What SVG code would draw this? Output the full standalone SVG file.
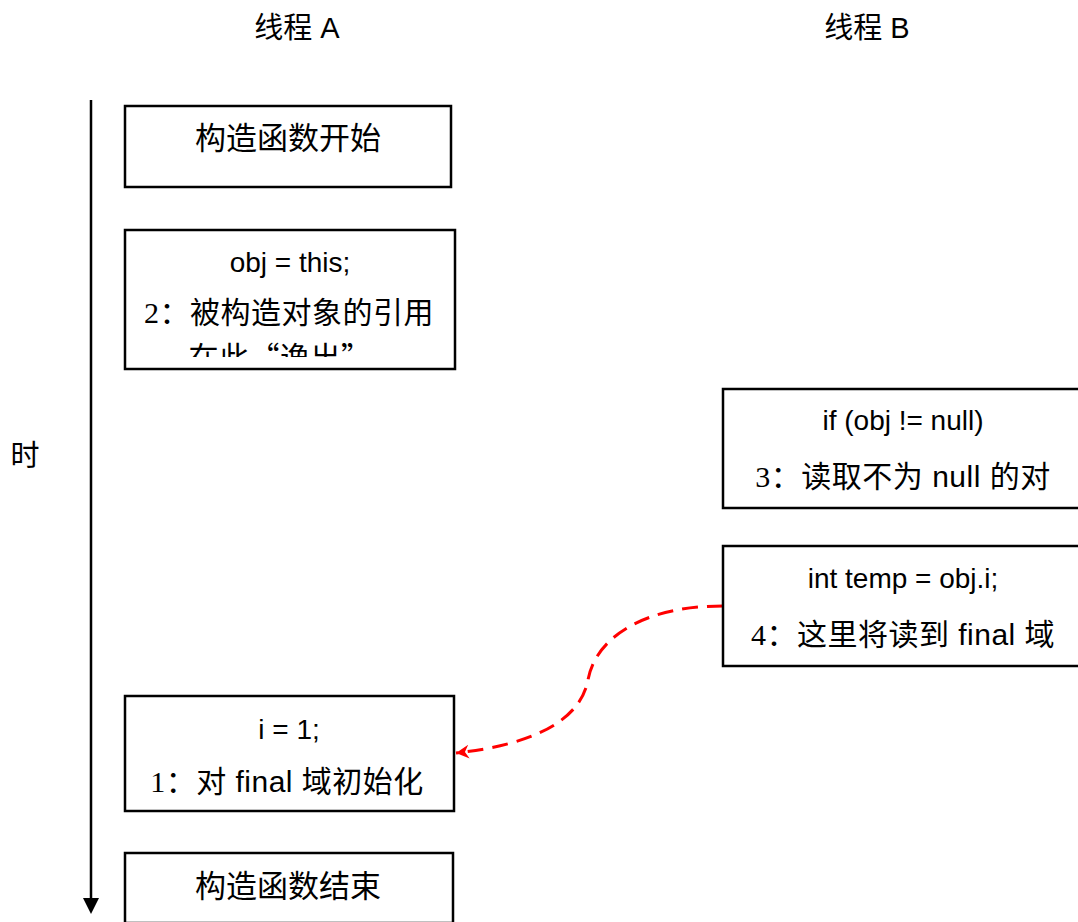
<svg xmlns="http://www.w3.org/2000/svg" width="1078" height="922" viewBox="0 0 1078 922">
<style>
.box{fill:#fff;stroke:#000;stroke-width:2.5}
.t{font-family:"Liberation Sans","Noto Sans CJK SC",sans-serif;fill:#000;text-anchor:middle}
.code{font-size:28px}
.cn{font-size:30px;letter-spacing:0.5px}
.hd{font-size:29px}
.num{font-family:"Liberation Serif","Noto Sans CJK SC",serif}
.q{font-family:"Noto Sans CJK SC",sans-serif}
</style>
<defs>
<marker id="ah" markerWidth="16" markerHeight="16" refX="13" refY="8" orient="auto" markerUnits="userSpaceOnUse">
<path d="M0,1 L13,8 L0,15 L4,8 Z" fill="#f00"/>
</marker>
<clipPath id="c2"><rect x="125" y="230" width="330" height="127"/></clipPath>
</defs>
<g id="headers">
<text class="t hd" x="297" y="38">线程 A</text>
<text class="t hd" x="867" y="38">线程 B</text>
<text class="t hd" x="25" y="466">时</text>
</g>
<g id="connectors">
<line x1="91" y1="100" x2="91" y2="898" stroke="#000" stroke-width="2.5"/>
<path d="M83,898 L99,898 L91,914 Z" fill="#000"/>
<path d="M723,606 C640,606 595,640 588,680 C580,722 530,745 456,753" fill="none" stroke="#f00" stroke-width="3" stroke-dasharray="16,9" marker-end="url(#ah)"/>
</g>
<g id="n1">
<rect class="box" x="125" y="106" width="326" height="81"/>
<text class="t" x="288" y="149" font-size="31">构造函数开始</text>
</g>
<g id="n2">
<rect class="box" x="125" y="230" width="330" height="139"/>
<text class="t code" x="290" y="272">obj = this;</text>
<g clip-path="url(#c2)">
<text class="t cn" x="289" y="323"><tspan class="num">2</tspan>：被构造对象的引用</text>
<text class="t cn" x="280" y="368">在此<tspan class="q">“</tspan>逸出<tspan class="q">”</tspan></text>
</g>
</g>
<g id="n3">
<rect class="box" x="723" y="389" width="360" height="119"/>
<text class="t code" x="903" y="430">if (obj != null)</text>
<text class="t cn" x="903" y="487"><tspan class="num">3</tspan>：读取不为 null 的对</text>
</g>
<g id="n4">
<rect class="box" x="723" y="546" width="360" height="120"/>
<text class="t code" x="903" y="588">int temp = obj.i;</text>
<text class="t cn" x="903" y="645"><tspan class="num">4</tspan>：这里将读到 final 域</text>
</g>
<g id="n5">
<rect class="box" x="125" y="696" width="329" height="115"/>
<text class="t code" x="289" y="739">i = 1;</text>
<text class="t cn" x="287" y="792"><tspan class="num">1</tspan>：对 final 域初始化</text>
</g>
<g id="n6">
<rect class="box" x="125" y="853" width="328" height="70"/>
<text class="t" x="288" y="897" font-size="31">构造函数结束</text>
</g>
</svg>
